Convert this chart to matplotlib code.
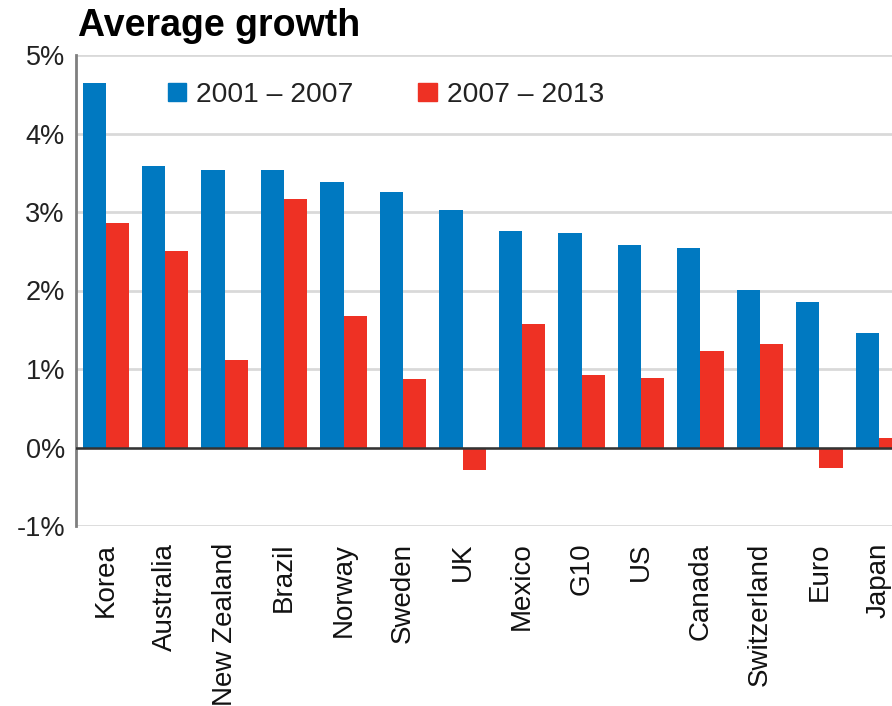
import numpy as np
import matplotlib
matplotlib.use("Agg")
import matplotlib.pyplot as plt
from matplotlib.patches import Patch

plt.rcParams['font.family'] = ['Liberation Sans', 'DejaVu Sans']

# data (percent)
countries = ['Korea', 'Australia', 'New Zealand', 'Brazil', 'Norway', 'Sweden', 'UK',
             'Mexico', 'G10', 'US', 'Canada', 'Switzerland', 'Euro', 'Japan']
growth_01_07 = [4.64, 3.58, 3.53, 3.53, 3.38, 3.25, 3.03, 2.76, 2.73, 2.58, 2.54, 2.01, 1.85, 1.46]
growth_07_13 = [2.86, 2.50, 1.11, 3.17, 1.68, 0.87, -0.29, 1.57, 0.92, 0.89, 1.23, 1.32, -0.26, 0.12]
series_labels = ['2001 \u2013 2007', '2007 \u2013 2013']
yticks = [-1, 0, 1, 2, 3, 4, 5]

blue = '#0079c1'
red = '#ee3124'

fig = plt.figure(figsize=(8.92, 7.06), dpi=100)
ax = fig.add_axes([76 / 892, 180 / 706, 1 - 76 / 892, 471 / 706])

x = np.arange(len(countries))
w = 0.39
ax.bar(x - w / 2, growth_01_07, width=w, color=blue, zorder=2)
ax.bar(x + w / 2, growth_07_13, width=w, color=red, zorder=2)

ax.set_xlim(-0.5, 13.22)
ax.set_ylim(-1, 5)
ax.set_yticks(yticks)
ax.set_yticklabels([f'{t}%' for t in yticks], fontsize=19.5, color='#222222')
ax.set_xticks(x)
ax.set_xticklabels(countries, rotation=90, fontsize=20, color='#111111')
ax.tick_params(axis='y', length=0, pad=8)
ax.tick_params(axis='x', length=0, pad=12)

ax.grid(axis='y', color='#d9d9d9', linewidth=2, zorder=0)
ax.set_axisbelow(True)
ax.axhline(0, color='#333333', linewidth=1.8, zorder=3)
for s in ['top', 'right', 'bottom']:
    ax.spines[s].set_visible(False)
ax.spines['left'].set_color('#7f7f7f')
ax.spines['left'].set_linewidth(2)

handles = [Patch(color=blue), Patch(color=red)]
ax.legend(handles, series_labels, loc='center left', bbox_to_anchor=(0.113, 0.915),
          ncol=2, frameon=False, fontsize=20.3, handlelength=0.64, handleheight=0.64,
          handletextpad=0.36, columnspacing=2.3, borderpad=0, borderaxespad=0,
          labelcolor='#222222')

fig.text(78 / 892, 1 - 26 / 706, 'Average growth', fontsize=27, fontweight='bold',
         ha='left', va='center')

fig.savefig('out.png', dpi=100)
